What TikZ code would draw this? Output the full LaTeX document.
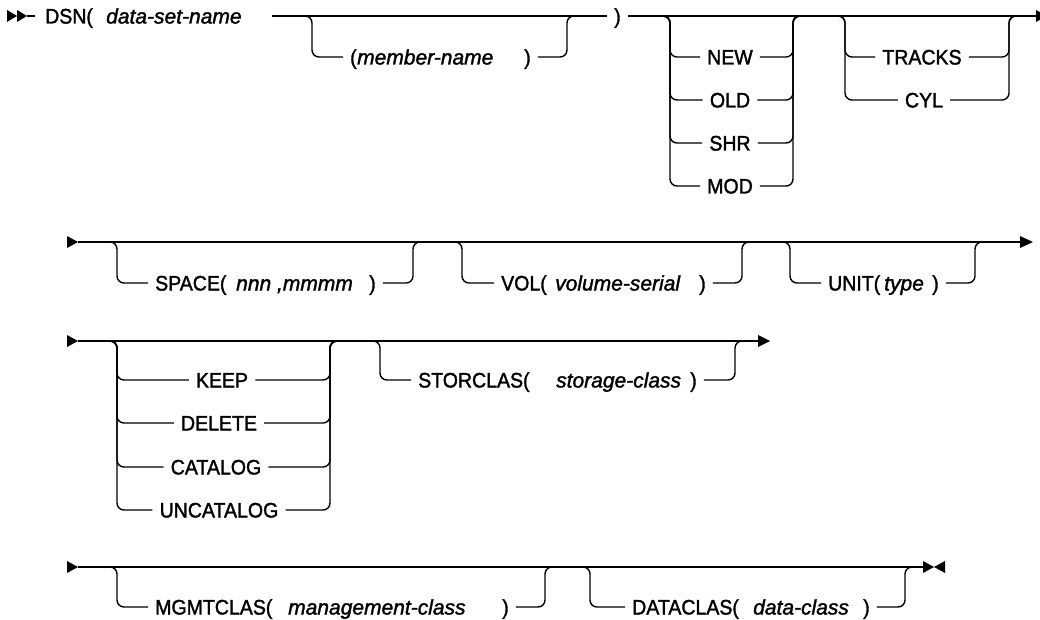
\documentclass[tikz,border=0pt]{standalone}
\usepackage{fontspec}
\setmainfont{Liberation Sans}
\newfontfamily\upf{Liberation Sans}[FakeBold=1.6, FakeStretch=0.93]
\newfontfamily\itf{Liberation Sans}[FakeBold=1.6, FakeStretch=1.0]
\begin{document}
\begin{tikzpicture}[x=1pt,y=-1pt,
  ln/.style={line width=1.4pt},
  br/.style={line width=1.4pt, rounded corners=7pt},
  lb/.style={inner xsep=0pt, inner ysep=0pt, text height=15pt, text depth=0pt, anchor=west, font=\fontsize{21}{24}\upf},
  it/.style={lb, font=\fontsize{21}{24}\itf\itshape},
  op/.style={lb, anchor=center},
  tip/.style={fill=black}]
\clip (0,0) rectangle (1040,620);

% ---------- Row 1 ----------
\fill[tip] (7,10) -- (17,16) -- (7,22) -- cycle;
\fill[tip] (17,10) -- (27,16) -- (17,22) -- cycle;
\coordinate (r1s) at (27,16);
\node[lb] (dsn) at (45,16) {DSN(};
\node[it] (dsnv) at (106,16) {data-set-name};
\draw[ln, shorten >=10pt] (r1s) -- (dsn.west);
\coordinate (r1b) at (272,16);
\node[lb] (cp) at (614,16) {)};
\coordinate (r1e) at (1036,16);
\draw[ln, shorten >=7pt] (r1b) -- (cp.west);
\draw[ln, shorten <=7pt] (cp.east) -- (r1e);
\fill[tip] (1036,10) -- (1047,16) -- (1036,22) -- cycle;

% member-name
\coordinate (mnL) at (312,16);
\coordinate (mnR) at (567,16);
\node[lb] (mn1) at (350,57) {(};
\node[it] (mn2) at (357,57) {member-name};
\node[lb] (mn3) at (524,57) {)};
\draw[br, shorten >=7pt] (mnL) ++(-10,0) -- (mnL) |- (mn1.west);
\draw[br, shorten <=7pt] (mn3.east) -| (mnR) -- ++(10,0);

% NEW / OLD / SHR / MOD
\coordinate (nL) at (670,16);
\coordinate (nR) at (793,16);
\node[op] (new) at (730,57) {NEW};
\node[op] (old) at (730,100) {OLD};
\node[op] (shr) at (730,143) {SHR};
\node[op] (mod) at (730,186) {MOD};
\foreach \o in {new,old,shr,mod}{
  \draw[br, shorten >=7pt] (nL) ++(-10,0) -- (nL) |- (\o.west);
  \draw[br, shorten <=7pt] (\o.east) -| (nR) -- ++(10,0);
}

% TRACKS / CYL
\coordinate (tL) at (845,16);
\coordinate (tR) at (1009,16);
\node[op] (trk) at (922,57) {TRACKS};
\node[op] (cyl) at (924,100) {CYL};
\foreach \o in {trk,cyl}{
  \draw[br, shorten >=7pt] (tL) ++(-10,0) -- (tL) |- (\o.west);
  \draw[br, shorten <=7pt] (\o.east) -| (tR) -- ++(10,0);
}

% ---------- Row 2 ----------
\fill[tip] (67,236) -- (78,242) -- (67,248) -- cycle;
\coordinate (r2s) at (78,242);
\coordinate (r2e) at (1021,242);
\draw[ln] (r2s) -- (r2e);
\fill[tip] (1020,236) -- (1033,242) -- (1020,248) -- cycle;

\coordinate (spL) at (117,242);
\coordinate (spR) at (413,242);
\node[lb] (sp1) at (155,283) {SPACE(};
\node[it] (sp2) at (236,283) {nnn ,mmmm};
\node[lb] (sp3) at (369,283) {)};
\draw[br, shorten >=7pt] (spL) ++(-10,0) -- (spL) |- (sp1.west);
\draw[br, shorten <=7pt] (sp3.east) -| (spR) -- ++(10,0);

\coordinate (voL) at (462,242);
\coordinate (voR) at (742,242);
\node[lb] (vo1) at (501,283) {VOL(};
\node[it] (vo2) at (555,283) {volume-serial};
\node[lb] (vo3) at (699,283) {)};
\draw[br, shorten >=7pt] (voL) ++(-10,0) -- (voL) |- (vo1.west);
\draw[br, shorten <=7pt] (vo3.east) -| (voR) -- ++(10,0);

\coordinate (unL) at (790,242);
\coordinate (unR) at (975,242);
\node[lb] (un1) at (828,283) {UNIT(};
\node[it] (un2) at (884,283) {type};
\node[lb] (un3) at (932,283) {)};
\draw[br, shorten >=7pt] (unL) ++(-10,0) -- (unL) |- (un1.west);
\draw[br, shorten <=7pt] (un3.east) -| (unR) -- ++(10,0);

% ---------- Row 3 ----------
\fill[tip] (67,335) -- (78,341) -- (67,347) -- cycle;
\coordinate (r3s) at (78,341);
\coordinate (r3e) at (759,341);
\draw[ln] (r3s) -- (r3e);
\fill[tip] (758,335) -- (770,341) -- (758,347) -- cycle;

\coordinate (kL) at (117,341);
\coordinate (kR) at (330,341);
\node[op] (keep) at (222,380) {KEEP};
\node[op] (del) at (219,423) {DELETE};
\node[op] (cat) at (216,467) {CATALOG};
\node[op] (unc) at (219,510) {UNCATALOG};
\foreach \o in {keep,del,cat,unc}{
  \draw[br, shorten >=7pt] (kL) ++(-10,0) -- (kL) |- (\o.west);
  \draw[br, shorten <=7pt] (\o.east) -| (kR) -- ++(10,0);
}

\coordinate (stL) at (380,341);
\coordinate (stR) at (735,341);
\node[lb] (st1) at (418,380) {STORCLAS(};
\node[it] (st2) at (556,380) {storage-class};
\node[lb] (st3) at (690,380) {)};
\draw[br, shorten >=7pt] (stL) ++(-10,0) -- (stL) |- (st1.west);
\draw[br, shorten <=7pt] (st3.east) -| (stR) -- ++(10,0);

% ---------- Row 4 ----------
\fill[tip] (67,561) -- (78,567) -- (67,573) -- cycle;
\coordinate (r4s) at (78,567);
\coordinate (r4e) at (924,567);
\draw[ln] (r4s) -- (r4e);
\fill[tip] (923,561) -- (934,567) -- (923,573) -- cycle;
\fill[tip] (945,561) -- (934,567) -- (945,573) -- cycle;

\coordinate (mgL) at (117,567);
\coordinate (mgR) at (545,567);
\node[lb] (mg1) at (155,607) {MGMTCLAS(};
\node[it] (mg2) at (288,607) {management-class};
\node[lb] (mg3) at (502,607) {)};
\draw[br, shorten >=7pt] (mgL) ++(-10,0) -- (mgL) |- (mg1.west);
\draw[br, shorten <=7pt] (mg3.east) -| (mgR) -- ++(10,0);

\coordinate (daL) at (590,567);
\coordinate (daR) at (905,567);
\node[lb] (da1) at (632,607) {DATACLAS(};
\node[it] (da2) at (753,607) {data-class};
\node[lb] (da3) at (863,607) {)};
\draw[br, shorten >=7pt] (daL) ++(-10,0) -- (daL) |- (da1.west);
\draw[br, shorten <=7pt] (da3.east) -| (daR) -- ++(10,0);
\end{tikzpicture}
\end{document}
